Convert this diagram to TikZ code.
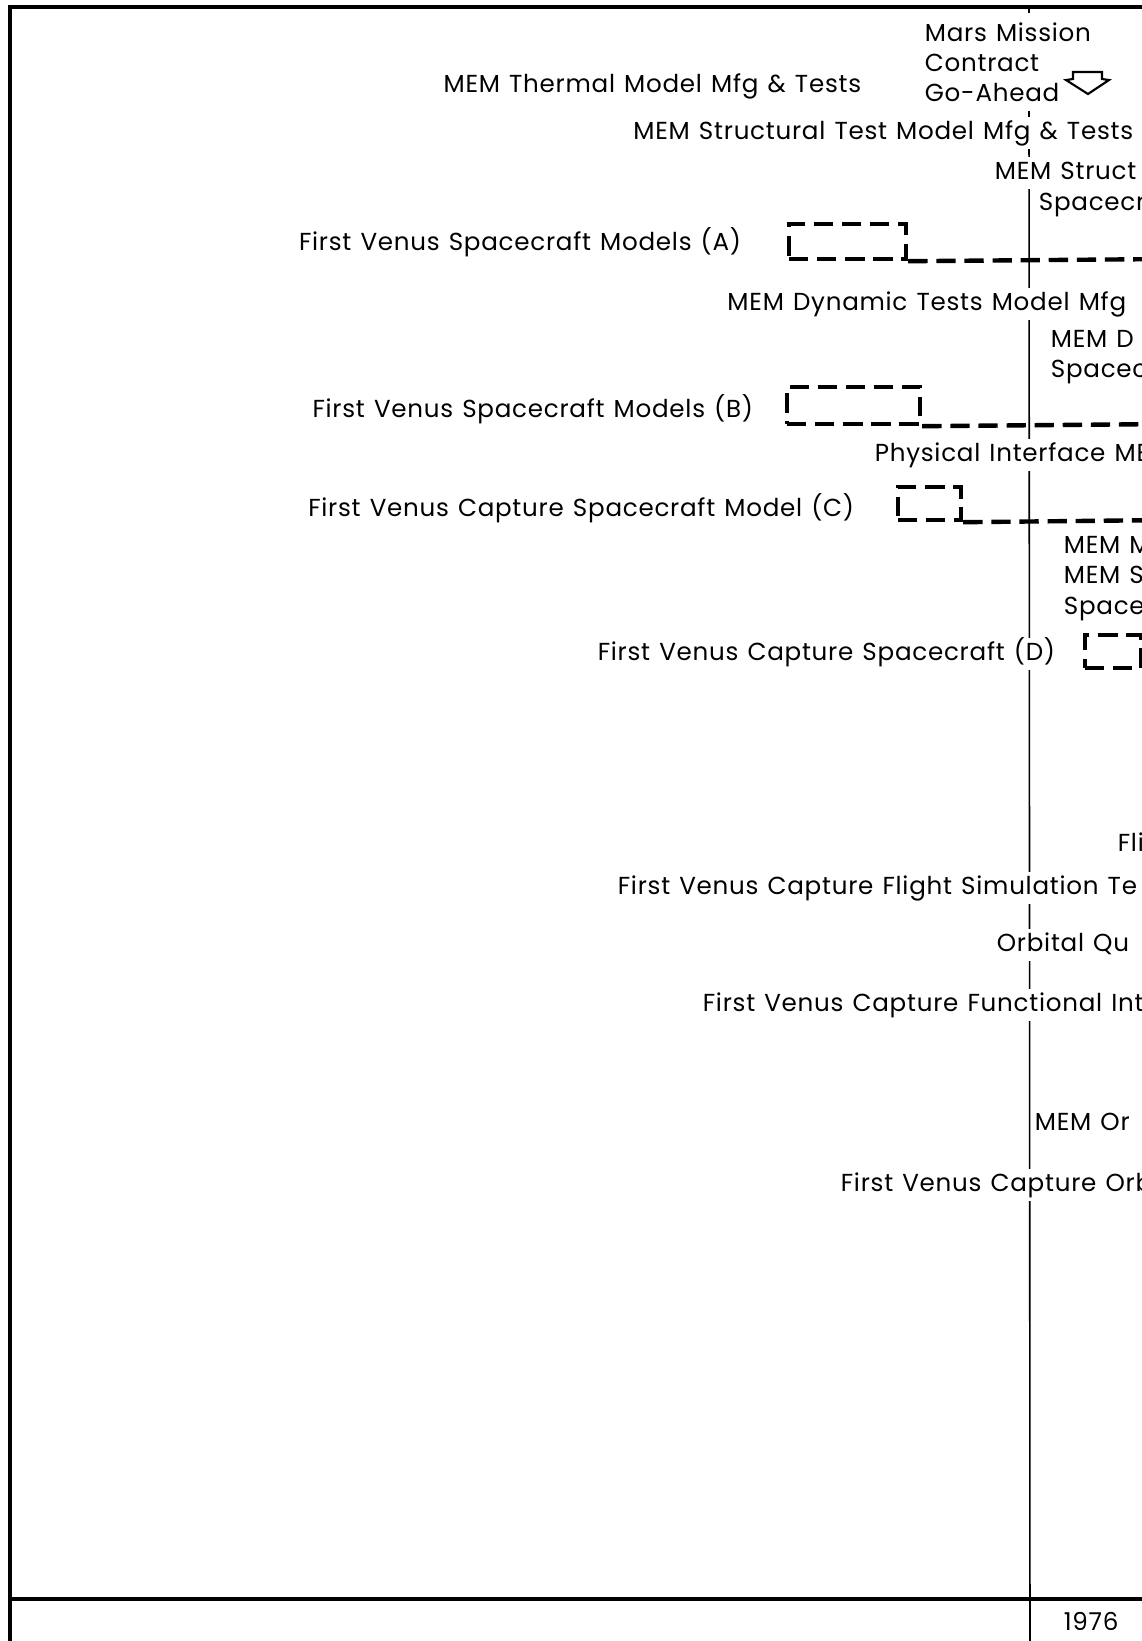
\documentclass[tikz,border=0pt]{standalone}
\usepackage{fontspec}
\setmainfont[LetterSpace=3, WordSpace=1.25]{Poppins}
\begin{document}
\begin{tikzpicture}[x=0.02cm, y=-0.02cm,
		lbl/.style={font=\fontsize{14}{17}\selectfont, inner sep=2pt, fill=white,
			text height=10.5pt, text depth=3.5pt},
		bar/.style={draw, line width=2.5pt, dash pattern=on 11pt off 5pt, inner sep=0pt},
		rim/.style={line width=2.6pt}]
		\useasboundingbox (0,0) rectangle (1142,1641);
		\clip (0,0) rectangle (1142,1641);
		% frame and 1976 marker
		\draw[rim] (10,1660) -- (10,7) -- (1160,7);
		\draw[line width=2.3pt] (10,1599) -- (1160,1599);
		\draw[line width=0.9pt] (1029,7) -- (1029,13);
		\draw[line width=0.9pt] (1029,104) -- (1030,1660);
		% go-ahead arrow
		\draw[line width=1.2pt, fill=white] (1073,72) -- (1102,72) -- (1102,79) -- (1109,80)
			-- (1088,94) -- (1066,80) -- (1073,79) -- cycle;
		% spacecraft model bars
		\node (boxA) [bar, minimum width=2.34cm, minimum height=0.70cm] at (847.5,241.5) {};
		\node (boxB) [bar, minimum width=2.66cm, minimum height=0.74cm] at (853.5,405.5) {};
		\node (boxC) [bar, minimum width=1.26cm, minimum height=0.66cm] at (929.5,503.5) {};
		\node (boxD) [bar, minimum width=1.12cm, minimum height=0.66cm] at (1113,651.5) {};
		\coordinate (endA) at (1170,259);
		\coordinate (endB) at (1170,424);
		\coordinate (endC) at (1170,520);
		\coordinate (endD) at (1170,668);
		\draw[bar] (boxA.south east) -- (endA);
		\draw[bar] (boxB.south east) -- (endB);
		\draw[bar] (boxC.south east) -- (endC);
		\draw[bar] (boxD.south east) -- (endD);
		% labels
		\node (mars1) [lbl, anchor=base west] at (921,41) {Mars Mission};
		\node (mars2) [lbl, anchor=base west] at (921,71) {Contract};
		\node (mars3) [lbl, anchor=base west] at (921,101) {Go-Ahead};
		\node (thermal) [lbl, anchor=base east] at (865,92) {MEM Thermal Model Mfg \& Tests};
		\node (sttest) [lbl, anchor=base east] at (1137,139) {MEM Structural Test Model Mfg \& Tests};
		\node (stsc1) [lbl, anchor=base west] at (991,179) {MEM Struct};
		\node (stsc2) [lbl, anchor=base west] at (1035,210) {Spacecra};
		\node (modA) [lbl, anchor=base east] at (745,250) {First Venus Spacecraft Models (A)};
		\node (dyn) [lbl, anchor=base east] at (1130,310) {MEM Dynamic Tests Model Mfg};
		\node (dysc1) [lbl, anchor=base west] at (1047,347) {MEM D};
		\node (dysc2) [lbl, anchor=base west] at (1047,377) {Spacecr};
		\node (modB) [lbl, anchor=base east] at (757,417) {First Venus Spacecraft Models (B)};
		\node (phys) [lbl, anchor=base west] at (871,461) {Physical Interface ME};
		\node (modC) [lbl, anchor=base east] at (858,516) {First Venus Capture Spacecraft Model (C)};
		\node (memM) [lbl, anchor=base west] at (1060,553) {MEM M};
		\node (memS) [lbl, anchor=base west] at (1060,583) {MEM S};
		\node (memSc) [lbl, anchor=base west] at (1060,614) {Spacec};
		\node (capD) [lbl, anchor=base east] at (1059,660) {First Venus Capture Spacecraft (D)};
		\node (fli) [lbl, anchor=base west] at (1114,851) {Fli};
		\node (flsim) [lbl, anchor=base west] at (614,894) {First Venus Capture Flight Simulation Te};
		\node (orbq) [lbl, anchor=base west] at (993,951) {Orbital Qu};
		\node (func) [lbl, anchor=base west] at (699,1011) {First Venus Capture Functional Int};
		\node (memOr) [lbl, anchor=base west] at (1031,1130) {MEM Or};
		\node (orb) [lbl, anchor=base west] at (837,1191) {First Venus Capture Orb};
		\node (yr) [lbl, anchor=base west] at (1060,1630) {1976};
	\end{tikzpicture}
\end{document}
